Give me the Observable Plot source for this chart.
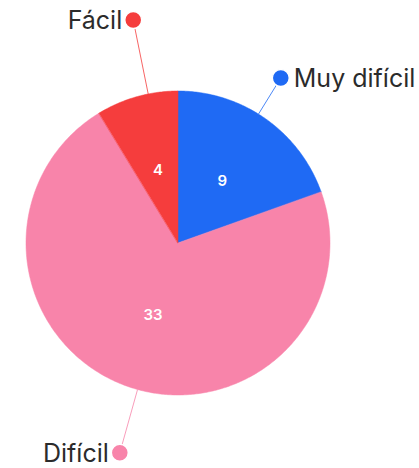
<!DOCTYPE html>
<html>
<head>
<meta charset="utf-8">
<script src="https://cdn.jsdelivr.net/npm/d3@7"></script>
<script src="https://cdn.jsdelivr.net/npm/@observablehq/plot@0.6"></script>
<style>
  html, body { margin: 0; padding: 0; background: #fff; }
  #chart svg { display: block; }
</style>
</head>
<body>
<div id="chart"></div>
<script>
// ---- data ----
const categories = ["Muy difícil", "Difícil", "Fácil"];
const values = [9, 33, 4];
const colors = ["#1f6af4", "#f884aa", "#f53d3d"];

// ---- layout ----
const W = 419, H = 468;
const CX = 178, CY = 243, R = 152;
const labelShiftDeg = [-3.5, -3.9, 4.2];   // connector angle shift from slice middle
const labelDist = [1.28, 1.43, 1.50];        // dot distance (in radii)
const labelSide = [1, -1, -1];               // text to the right (1) or left (-1) of dot

const rows = categories.map((name, i) => ({name, value: values[i], i}));
const arcs = d3.pie().sort(null).value(d => d.value)(rows);

const px = (a, r) => r * Math.sin(a);
const py = (a, r) => r * Math.cos(a);

// polygon points for each wedge (arc sampled, center as baseline)
const wedgePts = [];
arcs.forEach(a => {
  const n = Math.max(8, Math.ceil((a.endAngle - a.startAngle) / 0.01));
  for (let k = 0; k <= n; k++) {
    const t = a.startAngle + (a.endAngle - a.startAngle) * k / n;
    wedgePts.push({name: a.data.name, x0: 0, y0: 0, x: px(t, 1), y: py(t, 1)});
  }
});

const labels = arcs.map(a => {
  const i = a.data.i;
  const mid = (a.startAngle + a.endAngle) / 2;
  const ca = mid + labelShiftDeg[i] * Math.PI / 180;
  return {
    name: a.data.name,
    value: a.data.value,
    mid,
    ex: px(ca, 1.0), ey: py(ca, 1.0),
    dx: px(ca, labelDist[i]), dy: py(ca, labelDist[i]),
    side: labelSide[i]
  };
});

const chart = Plot.plot({
  width: W,
  height: H,
  margin: 0,
  style: {fontFamily: "Inter, 'Noto Sans', sans-serif", background: "#fff"},
  x: {domain: [-CX / R, (W - CX) / R], axis: null},
  y: {domain: [-(H - CY) / R, CY / R], axis: null},
  color: {domain: categories, range: colors},
  marks: [
    Plot.area(wedgePts, {x1: "x0", y1: "y0", x2: "x", y2: "y", z: "name", fill: "name", stroke: "name", strokeWidth: 0.5}),
    Plot.text(labels, {
      x: d => px(d.mid, 0.5), y: d => py(d.mid, 0.5),
      text: d => String(d.value), fill: "white", fontSize: 15, fontWeight: 600
    }),
    Plot.link(labels, {x1: "ex", y1: "ey", x2: "dx", y2: "dy", stroke: "name", strokeWidth: 1, strokeOpacity: 0.8}),
    Plot.dot(labels, {x: "dx", y: "dy", r: 8.5, fill: "name", stroke: "white", strokeWidth: 1.5}),
    Plot.text(labels.filter(d => d.side > 0), {
      x: "dx", y: "dy", text: "name", textAnchor: "start", dx: 13, dy: 1,
      fill: "#2b2b2b", fontSize: 25
    }),
    Plot.text(labels.filter(d => d.side < 0), {
      x: "dx", y: "dy", text: "name", textAnchor: "end", dx: -11, dy: 1,
      fill: "#2b2b2b", fontSize: 25
    })
  ]
});
document.getElementById("chart").appendChild(chart);
</script>
</body>
</html>
